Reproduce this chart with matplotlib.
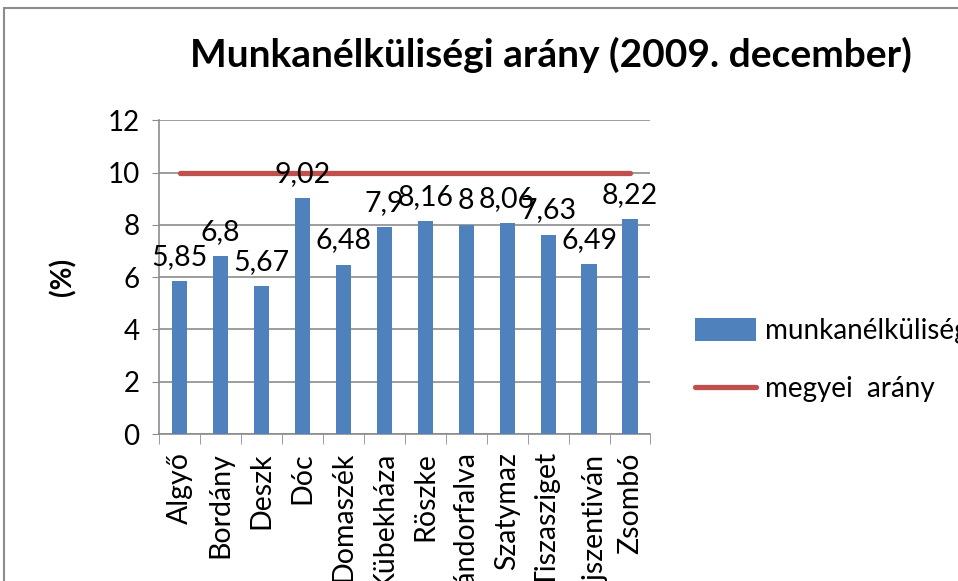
import numpy as np
import matplotlib.pyplot as plt
from matplotlib.patches import Rectangle

# === ADATOK ===
telepulesek = ['Algyő', 'Bordány', 'Deszk', 'Dóc', 'Domaszék', 'Kübekháza',
               'Röszke', 'Sándorfalva', 'Szatymaz', 'Tiszasziget',
               'Újszentiván', 'Zsombó']
munkanelkuliseg = [5.85, 6.8, 5.67, 9.02, 6.48, 7.9, 8.16, 8, 8.06, 7.63, 6.49, 8.22]
megyei_arany = [10] * len(telepulesek)
y_ticks = [0, 2, 4, 6, 8, 10, 12]

plt.rcParams['font.family'] = ['Lato', 'DejaVu Sans']

fig = plt.figure(figsize=(9.58, 5.81), dpi=100)
ax = fig.add_axes([0.166, 0.253, 0.513, 0.54])

# keret a diagram körül
fig.patches.append(Rectangle((0.004, -0.1), 1.2, 1.086, transform=fig.transFigure,
                             fill=False, edgecolor='#8c8c8c', linewidth=1.5))

x = np.arange(len(telepulesek))
oszlop = ax.bar(x, munkanelkuliseg, width=0.37, color='#4F81BD', zorder=3,
                label='munkanélküliségi arány')
vonal, = ax.plot(x, megyei_arany, color='#C0504D', linewidth=3.8,
                 solid_capstyle='round', zorder=4, label='megyei  arány')

for xi, v in zip(x, munkanelkuliseg):
    txt = ('%g' % v).replace('.', ',')
    ax.annotate(txt, (xi, v), xytext=(0, 8), textcoords='offset points',
                ha='center', va='bottom', fontsize=20.5, zorder=5)

ax.set_xlim(-0.5, len(telepulesek) - 0.5)
ax.set_ylim(0, 12)
ax.set_yticks(y_ticks)
ax.tick_params(axis='y', labelsize=20, length=5, color='#8c8c8c', pad=9)
ax.set_xticks(x)
ax.set_xticklabels(telepulesek, rotation=90, fontsize=20.5)
ax.tick_params(axis='x', length=0, pad=13)
ax.set_xticks(np.arange(-0.5, len(telepulesek)), minor=True)
ax.tick_params(axis='x', which='minor', length=7, color='#8c8c8c')

ax.grid(axis='y', color='#8c8c8c', linewidth=1.2, zorder=0)
for s in ['top', 'right']:
    ax.spines[s].set_visible(False)
for s in ['left', 'bottom']:
    ax.spines[s].set_color('#8c8c8c')
    ax.spines[s].set_linewidth(1.2)

ax.set_ylabel('(%)', fontsize=20, fontweight='bold', labelpad=22)
fig.text(0.575, 0.905, 'Munkanélküliségi arány (2009. december)',
         ha='center', va='center', fontsize=28, fontweight='bold')

ax.legend([oszlop, vonal], ['munkanélküliségi arány', 'megyei  arány'],
          loc='center left', bbox_to_anchor=(1.04, 0.235), frameon=False,
          fontsize=20, handlelength=2.2, handleheight=0.9, handletextpad=0.3,
          labelspacing=1.15)

plt.savefig('out.png', dpi=100)
